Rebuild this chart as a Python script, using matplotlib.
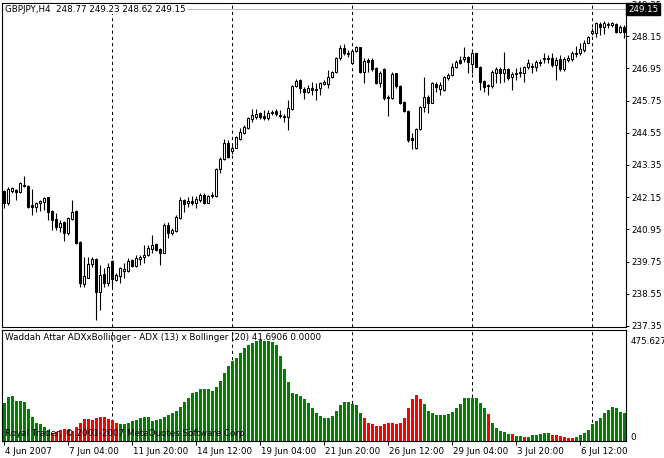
import matplotlib
matplotlib.use("Agg")
import matplotlib.pyplot as plt
import matplotlib.transforms as mtransforms

# GBPJPY H4 candles, one per bar from 4 Jun 2007 12:00
opens = [242.39, 241.92, 242.39, 242.42, 242.36, 242.57, 242.57, 241.86, 241.77, 241.92,
         241.98, 242.15, 241.65, 241.32, 241.05, 241.24, 240.80, 241.34, 241.63, 240.49,
         238.92, 239.15, 239.65, 239.85, 238.63, 239.29, 238.94, 239.79, 239.06, 239.21,
         239.41, 239.41, 239.81, 239.59, 239.84, 239.93, 240.00, 240.21, 240.42, 240.21,
         240.08, 241.11, 240.83, 240.90, 241.36, 242.05, 241.92, 242.00, 241.95, 242.05,
         242.23, 241.95, 242.20, 242.20, 243.19, 243.56, 244.16, 243.88, 244.00, 244.31,
         244.55, 244.72, 245.06, 245.13, 245.30, 245.18, 245.09, 245.34, 245.36, 245.21,
         245.18, 245.15, 245.43, 246.30, 246.52, 246.18, 246.08, 246.21, 246.20, 246.21,
         246.37, 246.37, 246.64, 246.83, 247.33, 247.70, 247.54, 247.14, 247.61, 247.74,
         246.83, 247.26, 247.26, 246.95, 246.42, 246.92, 245.90, 245.84, 246.77, 246.30,
         245.71, 245.37, 244.34, 243.97, 244.68, 245.52, 245.90, 245.67, 246.37, 246.17,
         246.15, 246.58, 246.71, 246.99, 247.26, 247.29, 247.36, 247.11, 247.51, 247.01,
         246.49, 246.30, 246.30, 246.79, 246.92, 246.77, 246.92, 246.62, 246.74, 246.83,
         246.79, 246.99, 247.02, 246.99, 247.20, 247.33, 247.29, 247.33, 247.08, 247.29,
         246.92, 247.26, 247.29, 247.49, 247.51, 247.64, 247.91, 248.28, 248.26, 248.60,
         248.51, 248.58, 248.57, 248.60, 248.32, 248.51]
highs = [242.42, 242.52, 242.54, 242.45, 242.73, 242.95, 242.60, 242.45, 241.98, 242.05,
         242.17, 242.17, 241.67, 241.55, 241.30, 241.27, 241.42, 242.05, 241.67, 240.53,
         239.93, 239.91, 239.93, 239.87, 239.62, 239.50, 239.69, 239.81, 239.31, 239.54,
         239.69, 239.87, 239.84, 240.00, 240.00, 240.37, 240.37, 240.74, 240.45, 240.25,
         241.18, 241.24, 241.00, 241.49, 242.17, 242.07, 242.17, 242.20, 242.20, 242.30,
         242.30, 242.23, 242.35, 243.23, 243.64, 244.31, 244.28, 244.10, 244.43, 244.72,
         244.84, 245.15, 245.43, 245.43, 245.34, 245.40, 245.40, 245.40, 245.43, 245.40,
         245.25, 245.77, 246.33, 246.54, 246.57, 246.27, 246.33, 246.46, 246.40, 246.46,
         246.52, 246.89, 246.86, 247.39, 247.82, 247.86, 247.64, 247.66, 247.79, 247.76,
         247.33, 247.33, 247.33, 246.99, 246.86, 246.95, 245.96, 246.83, 246.79, 246.33,
         245.75, 245.40, 244.53, 244.72, 245.55, 246.64, 245.96, 246.46, 246.46, 246.46,
         246.67, 246.77, 247.14, 247.26, 247.41, 247.76, 247.41, 247.57, 247.54, 247.04,
         246.52, 246.37, 246.89, 247.01, 246.99, 247.57, 246.95, 246.83, 246.95, 247.01,
         247.04, 247.29, 247.14, 247.26, 247.29, 247.51, 247.45, 247.54, 247.39, 247.45,
         247.39, 247.45, 247.61, 247.79, 247.91, 248.01, 248.16, 248.44, 248.69, 248.69,
         248.73, 248.69, 248.69, 248.66, 248.57, 248.57]
lows = [241.74, 241.86, 242.30, 242.05, 242.30, 242.54, 241.74, 241.49, 241.61, 241.65,
        241.67, 241.30, 240.93, 240.93, 240.86, 240.53, 240.74, 241.30, 240.41, 238.81,
        238.81, 239.13, 239.56, 237.57, 237.95, 238.81, 238.84, 238.81, 239.04, 238.94,
        239.13, 239.37, 239.54, 239.56, 239.62, 239.71, 239.96, 240.06, 240.15, 239.64,
        240.06, 240.62, 240.74, 240.86, 241.33, 241.61, 241.80, 241.86, 241.74, 241.98,
        241.90, 241.92, 242.11, 242.17, 243.04, 243.54, 243.60, 243.76, 243.97, 244.28,
        244.51, 244.68, 244.96, 245.05, 245.05, 245.03, 245.03, 245.21, 245.18, 245.09,
        244.96, 244.66, 245.40, 246.27, 246.02, 245.80, 246.02, 245.96, 245.77, 245.96,
        246.33, 246.21, 246.58, 246.79, 247.26, 247.45, 247.39, 247.11, 247.57, 246.79,
        246.42, 246.83, 246.86, 246.37, 246.27, 245.77, 245.18, 245.80, 246.21, 245.62,
        245.34, 244.22, 243.93, 243.93, 244.66, 245.34, 245.28, 245.65, 246.08, 245.96,
        246.12, 246.52, 246.67, 246.95, 247.12, 247.20, 246.79, 246.77, 246.99, 246.15,
        246.08, 245.96, 246.21, 246.42, 246.40, 246.46, 246.52, 246.15, 246.52, 246.64,
        246.46, 246.92, 246.79, 246.86, 247.04, 247.14, 247.16, 247.02, 246.52, 246.86,
        246.86, 247.20, 247.24, 247.39, 247.45, 247.57, 247.89, 248.20, 248.13, 248.20,
        248.23, 248.44, 248.51, 248.28, 248.26, 248.07]
closes = [241.92, 242.45, 242.48, 242.36, 242.67, 242.60, 241.80, 241.80, 241.92, 242.02,
          242.13, 241.61, 241.30, 241.05, 241.20, 240.80, 241.36, 241.61, 240.45, 238.94,
          239.21, 239.65, 239.84, 238.63, 239.25, 238.94, 239.54, 239.09, 239.25, 239.50,
          239.46, 239.77, 239.59, 239.87, 239.93, 240.00, 240.25, 240.37, 240.18, 240.08,
          241.11, 240.83, 240.93, 241.40, 242.05, 241.90, 242.02, 241.95, 242.07, 242.23,
          241.92, 242.20, 242.23, 243.19, 243.57, 244.16, 243.64, 244.00, 244.38, 244.59,
          244.78, 245.09, 245.21, 245.25, 245.15, 245.09, 245.30, 245.28, 245.25, 245.18,
          245.15, 245.46, 246.30, 246.49, 246.21, 246.06, 246.21, 246.15, 246.15, 246.40,
          246.46, 246.64, 246.83, 247.33, 247.70, 247.51, 247.49, 247.61, 247.74, 246.83,
          247.24, 247.20, 246.92, 246.42, 246.79, 245.84, 245.84, 246.74, 246.30, 245.67,
          245.37, 244.28, 244.28, 244.68, 245.52, 245.90, 245.67, 246.40, 246.27, 246.33,
          246.64, 246.71, 247.02, 247.20, 247.16, 247.36, 247.20, 247.51, 247.01, 246.46,
          246.27, 246.33, 246.83, 246.92, 246.77, 246.92, 246.58, 246.74, 246.79, 246.77,
          246.99, 247.14, 247.04, 247.20, 247.16, 247.29, 247.35, 247.08, 247.26, 246.92,
          247.29, 247.35, 247.54, 247.54, 247.66, 247.91, 248.11, 248.35, 248.63, 248.48,
          248.63, 248.62, 248.66, 248.32, 248.51, 248.32]

# Waddah Attar ADXxBollinger histogram
adx_boll = [180, 209, 214, 189, 189, 184, 150, 112, 87, 78, 68, 53,
            39, 44, 53, 58, 53, 49, 68, 87, 102, 102, 97, 107, 112, 112, 102, 97, 83,
            78, 78, 83, 92, 97, 107, 112, 112, 92, 97, 102, 112, 121, 131, 141, 160,
            184, 204, 228, 233, 243, 243, 243, 238, 257, 281, 320, 354, 379, 393, 417,
            437, 451, 461, 471, 475.6275, 474, 471, 466, 451, 403, 340, 277, 228, 223,
            214, 199, 180, 155, 131, 116, 107, 107, 116, 141, 170, 184, 184, 175, 170,
            131, 107, 83, 78, 73, 73, 78, 87, 83, 78, 87, 107, 155, 199, 218, 199,
            175, 141, 131, 121, 121, 121, 126, 136, 155, 175, 204, 204, 204, 204, 180,
            155, 126, 87, 63, 49, 44, 34, 34, 24, 24, 19, 19, 29, 29, 34, 39, 39,
            29, 29, 24, 19, 15, 15, 19, 29, 39, 53, 78, 92, 107, 131, 146, 160, 155,
            136, 131]
red_bars = (list(range(12, 29)) + list(range(90, 105)) + [121, 127, 130]
            + list(range(137, 143)))

time_labels = ["4 Jun 2007", "7 Jun 04:00", "11 Jun 20:00", "14 Jun 12:00",
               "19 Jun 04:00", "21 Jun 20:00", "26 Jun 12:00", "29 Jun 04:00",
               "3 Jul 20:00", "6 Jul 12:00"]
time_label_bars = [0, 16, 32, 48, 64, 80, 96, 112, 128, 144]
week_starts = [27, 57, 87, 117, 147]
price_ticks = [237.35, 238.55, 239.75, 240.95, 242.15, 243.35, 244.55,
               245.75, 246.95, 248.15, 249.35]
bid = 249.15

W, H = 664, 458
FS = 6.3
plt.rcParams['font.family'] = ['DejaVu Sans']

fig = plt.figure(figsize=(W / 100, H / 100), dpi=100)
fig.patch.set_facecolor('white')


def box(x0, y0, x1, y1):
    return [x0 / W, 1 - y1 / H, (x1 - x0) / W, (y1 - y0) / H]


ax = fig.add_axes(box(2, 3, 626, 327))
ax2 = fig.add_axes(box(2, 330, 626, 441))

n = len(opens)
xs = list(range(n))

# candles
ax.vlines(xs, lows, highs, color='black', lw=0.8, zorder=2)
body_bottom = [min(o, c) for o, c in zip(opens, closes)]
body_h = [max(abs(c - o), 0.015) for o, c in zip(opens, closes)]
body_col = ['white' if c >= o else 'black' for o, c in zip(opens, closes)]
ax.bar(xs, body_h, bottom=body_bottom, width=0.6, color=body_col,
       edgecolor='black', linewidth=0.75, zorder=3)

ax.axhline(bid, color='#c0c0c0', lw=0.8, zorder=1)
for w in week_starts:
    ax.axvline(w, color='black', lw=0.75, ls=(0, (3, 3)), zorder=1)
    ax2.axvline(w, color='black', lw=0.75, ls=(0, (3, 3)), zorder=1)

ax.set_xlim(-0.5, n - 0.5)
ax.set_ylim(237.35 - 1 / 26.83, 249.35 + 1 / 26.83)
ax.set_xticks([])
ax.yaxis.tick_right()
ax.set_yticks(price_ticks)
ax.set_yticklabels([f"{p:.2f}" for p in price_ticks])
ax.tick_params(axis='y', direction='out', length=2.5, width=0.7, pad=1.5,
               labelsize=FS, colors='black')

ax.text(3 / 624, 1 - 6 / 324, "GBPJPY,H4  248.77 249.23 248.62 249.15",
        transform=ax.transAxes, fontsize=FS, va='center', ha='left',
        bbox=dict(facecolor='white', edgecolor='none', pad=0.6), zorder=5)

fig.text(628 / W, 1 - 9 / H, f"{bid:.2f}", color='white', fontsize=FS,
         va='center', ha='left',
         bbox=dict(facecolor='black', edgecolor='black', pad=1.2), zorder=10)

# indicator window
bar_col = ['#ff0000' if i in red_bars else '#008000' for i in xs]
ax2.bar(xs, adx_boll, width=0.75, color=bar_col, linewidth=0, zorder=2)
top_val = max(adx_boll)
ax2.set_xlim(-0.5, n - 0.5)
ax2.set_ylim(0, top_val * 109 / 99)
ax2.yaxis.tick_right()
ax2.set_yticks([0, top_val])
ax2.set_yticklabels(["0", f"{top_val:.4f}"])
ax2.tick_params(axis='y', direction='out', length=0, pad=3,
                labelsize=FS, colors='black')
ax2.get_yticklabels()[0].set_transform(
    ax2.get_yticklabels()[0].get_transform()
    + mtransforms.ScaledTranslation(0, 5 / 100, fig.dpi_scale_trans))

ax2.set_xticks(time_label_bars)
ax2.set_xticklabels(time_labels, ha='left')
ax2.tick_params(axis='x', direction='out', length=3, width=0.7, pad=1,
                labelsize=FS, colors='black')
shift = mtransforms.ScaledTranslation(1 / 100, 0, fig.dpi_scale_trans)
for lbl in ax2.get_xticklabels():
    lbl.set_transform(lbl.get_transform() + shift)

ax2.text(3 / 624, 1 - 7 / 111,
         "Waddah Attar ADXxBollinger - ADX (13) x Bollinger (20) 41.6906 0.0000",
         transform=ax2.transAxes, fontsize=FS, va='center', ha='left', zorder=5)
ax2.text(3 / 624, 8 / 111, "Royal Trader, \u00a9 2001-2007 MetaQuotes Software Corp.",
         transform=ax2.transAxes, fontsize=FS, va='center', ha='left',
         color='black', zorder=5)

for a in (ax, ax2):
    for s in a.spines.values():
        s.set_color('black')
        s.set_linewidth(0.8)
    a.set_facecolor('white')

fig.savefig("out.png", dpi=100)
